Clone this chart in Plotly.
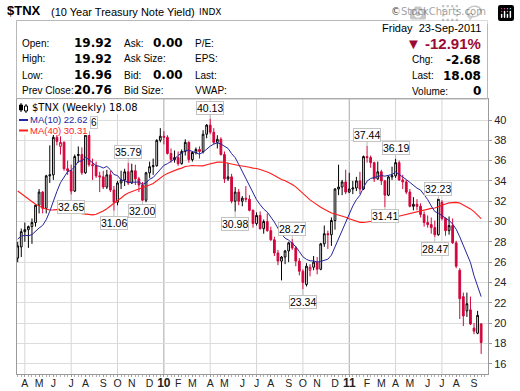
import plotly.graph_objects as go
import pandas as pd
import numpy as np

# ---------------- data ----------------
# weekly closes before the visible window (needed for the moving averages)
prior_closes = [39.7, 39.8, 39.6, 40.9, 41.3, 39.4, 39.4, 38.4, 38.6, 38.1,
                36.7, 37.2, 37.9, 38.5, 36.1, 38.7, 39.3, 36.9, 39.5, 38.1,
                37.2, 31.9, 29.2, 25.6, 25.7, 21.3, 21.4, 24.0, 24.0, 23.2,
                26.1, 28.4, 29.9, 28.8, 27.9, 30.1, 28.7, 28.9, 26.3]

opens = [26.4, 27.5, 29.0, 29.2, 29.5, 29.9, 31.6, 32.9, 31.3, 34.5,
         34.6, 38.3, 37.4, 37.8, 35.2, 35.0, 33.0, 36.5, 36.6, 34.8,
         38.5, 35.6, 35.5, 34.5, 34.4, 33.4, 34.6, 33.1, 31.9, 33.8,
         34.1, 34.9, 33.8, 35.0, 34.2, 33.6, 32.1, 34.8, 35.4, 35.5,
         38.0, 38.4, 38.3, 36.7, 36.1, 36.3, 35.7, 36.9, 37.8, 36.1,
         36.8, 37.1, 36.9, 38.6, 39.5, 38.8, 37.8, 38.1, 36.6, 34.2,
         34.4, 32.0, 32.9, 32.0, 32.3, 32.2, 31.1, 29.8, 30.6, 29.3,
         30.0, 29.1, 28.2, 26.9, 26.1, 26.5, 27.1, 27.9, 27.4, 26.1,
         25.1, 23.8, 25.2, 25.5, 26.0, 25.3, 27.8, 28.8, 28.7, 30.1,
         33.2, 33.4, 33.9, 32.9, 33.2, 33.3, 34.0, 33.2, 36.4, 36.3,
         35.8, 34.2, 34.9, 34.0, 32.6, 34.4, 34.5, 35.8, 34.1, 33.9,
         32.9, 31.5, 31.7, 31.5, 30.7, 29.9, 29.7, 29.4, 28.7, 31.9,
         30.3, 29.1, 29.6, 27.9, 25.2, 22.6, 21.2, 21.3, 19.5, 19.0,
         19.92]
highs = [28.0, 29.3, 29.9, 29.6, 30.3, 31.7, 33.2, 33.0, 34.6, 37.5,
         38.6, 39.9, 38.4, 37.9, 36.0, 35.6, 36.6, 37.4, 37.3, 38.96,
         38.9, 36.2, 35.9, 34.9, 35.0, 35.1, 35.0, 33.5, 34.0, 35.0,
         35.2, 35.79, 35.7, 35.6, 34.4, 33.9, 34.9, 35.9, 36.2, 38.1,
         39.2, 38.9, 38.5, 37.2, 37.0, 36.9, 37.1, 38.1, 37.9, 36.9,
         37.3, 37.4, 39.0, 39.6, 40.13, 39.2, 38.5, 38.3, 36.9, 35.8,
         34.7, 33.4, 33.2, 32.5, 33.5, 32.6, 31.2, 30.9, 31.0, 30.2,
         30.8, 29.5, 28.5, 27.2, 26.6, 27.2, 28.0, 28.27, 27.6, 26.4,
         25.3, 25.9, 25.8, 26.6, 26.5, 27.9, 29.6, 29.1, 30.4, 33.3,
         35.6, 34.1, 35.1, 34.8, 34.0, 34.4, 34.9, 36.5, 37.44, 36.5,
         35.9, 35.9, 35.1, 34.1, 34.5, 35.4, 36.19, 36.0, 34.6, 34.1,
         33.2, 32.4, 32.2, 31.8, 31.0, 30.6, 30.4, 30.1, 32.23, 32.1,
         30.4, 30.5, 30.3, 28.1, 25.4, 23.0, 23.0, 22.6, 20.0, 21.2,
         19.92]
lows = [26.0, 26.5, 28.0, 27.4, 27.8, 29.5, 30.8, 30.8, 30.8, 33.8,
        34.1, 37.5, 36.6, 35.0, 34.6, 32.65, 32.9, 35.8, 34.6, 34.7,
        35.4, 34.1, 34.3, 32.9, 33.2, 33.2, 32.9, 31.06, 31.6, 33.2,
        33.5, 33.6, 33.7, 33.6, 32.9, 32.00, 31.9, 34.3, 34.6, 35.4,
        37.8, 37.6, 36.6, 35.8, 35.8, 35.5, 35.6, 36.5, 35.8, 35.9,
        36.6, 36.2, 36.7, 38.2, 38.6, 37.6, 37.2, 36.5, 33.8, 34.0,
        31.8, 30.98, 31.6, 31.5, 31.9, 31.0, 29.4, 29.6, 29.2, 28.8,
        29.0, 28.1, 26.6, 25.7, 24.2, 25.8, 26.0, 27.2, 25.6, 24.7,
        23.34, 23.6, 24.6, 25.2, 24.8, 25.2, 27.5, 27.3, 27.6, 29.2,
        32.6, 32.6, 32.7, 32.8, 32.7, 33.0, 32.7, 33.1, 35.8, 35.3,
        33.9, 34.1, 33.6, 31.41, 32.5, 34.1, 34.3, 34.0, 33.2, 32.7,
        31.4, 31.1, 31.1, 30.4, 29.5, 29.4, 28.8, 28.47, 28.6, 30.1,
        28.6, 28.7, 27.8, 25.4, 20.4, 19.7, 20.6, 19.8, 18.9, 18.9,
        16.96]
closes = [27.6, 29.0, 29.2, 29.5, 29.9, 31.6, 32.9, 31.3, 34.5, 34.6,
          38.3, 37.9, 37.8, 35.2, 35.0, 33.0, 36.4, 36.6, 34.8, 38.5,
          35.6, 35.5, 34.5, 34.4, 33.4, 34.6, 33.1, 31.9, 33.8, 34.1,
          34.9, 33.8, 35.0, 34.2, 33.6, 32.1, 34.8, 35.4, 35.5, 38.0,
          38.4, 38.3, 36.7, 36.1, 36.3, 35.7, 36.9, 37.8, 36.1, 36.8,
          37.1, 36.9, 38.6, 39.5, 38.8, 37.8, 38.1, 36.6, 34.2, 34.4,
          32.0, 32.9, 32.0, 32.3, 32.2, 31.1, 29.8, 30.6, 29.3, 30.0,
          29.1, 28.2, 26.9, 26.1, 26.5, 27.1, 27.9, 27.4, 26.1, 25.1,
          24.0, 25.6, 25.5, 26.0, 25.3, 27.8, 28.8, 28.7, 30.1, 33.2,
          33.4, 33.9, 32.9, 33.2, 33.3, 34.0, 33.2, 36.4, 36.3, 35.8,
          34.2, 34.9, 34.0, 32.6, 34.4, 34.5, 35.8, 34.1, 33.9, 32.9,
          31.5, 31.7, 31.5, 30.7, 29.9, 29.7, 29.4, 28.7, 32.2, 30.3,
          29.1, 29.6, 27.9, 25.6, 22.4, 20.7, 21.9, 19.9, 19.2, 20.76,
          18.08]

month_letters = ["J", "F", "M", "A", "M", "J", "J", "A", "S", "O", "N", "D"]
y_ticks = [16, 18, 20, 22, 24, 26, 28, 30, 32, 34, 36, 38, 40]

# swing-point labels: (week index, 'H' high / 'L' low, vertical offset px)
swing_labels = [(15, "L", 12), (27, "L", 12), (31, "H", -11), (35, "L", 10),
                (54, "H", -11), (61, "L", 12), (77, "H", -10), (80, "L", 13),
                (98, "H", -11), (103, "L", 9), (106, "H", -11), (117, "L", 12),
                (118, "H", -10)]

weeks = pd.date_range("2009-03-23", periods=len(closes), freq="7D")

# ---------------- derived ----------------
allc = pd.Series(prior_closes + closes)
ma10 = allc.rolling(10).mean().iloc[len(prior_closes):].values
ma40 = allc.rolling(40).mean().iloc[len(prior_closes):].values
prev = [prior_closes[-1]] + closes[:-1]
up = [c >= p for c, p in zip(closes, prev)]

RED = "#d2063c"
NAVY = "#24249e"
MARED = "#ff1c1c"

W, H = 520, 391
L, R, T, B = 17, 488, 99, 374


def xp(px):
    return (px - L) / (R - L)


def yp(py):
    return (B - py) / (B - T)


fig = go.Figure()


def add_candles(mask, col):
    idx = [i for i in range(len(closes)) if mask[i]]
    fig.add_trace(go.Candlestick(
        x=[weeks[i] for i in idx],
        open=[opens[i] for i in idx], high=[highs[i] for i in idx],
        low=[lows[i] for i in idx], close=[closes[i] for i in idx],
        increasing=dict(line=dict(color=col, width=1), fillcolor="white"),
        decreasing=dict(line=dict(color=col, width=1), fillcolor=col),
        whiskerwidth=0, hoverinfo="skip", showlegend=False))


add_candles(up, "#000000")
add_candles([not u for u in up], RED)

fig.add_trace(go.Scatter(x=weeks, y=ma40, mode="lines",
                         line=dict(color=MARED, width=1.1), hoverinfo="skip",
                         showlegend=False))
fig.add_trace(go.Scatter(x=weeks, y=ma10, mode="lines",
                         line=dict(color=NAVY, width=1.0), hoverinfo="skip",
                         showlegend=False))

# month ticks at first weekly bar of each month
tickvals, ticktext, quarter = [], [], []
last_m = None
for d in weeks:
    if d.month != last_m:
        if last_m is not None:
            tickvals.append(d)
            if d.month == 1:
                ticktext.append("<b><span style='font-size:12px'>%02d</span></b>" % (d.year % 100))
            else:
                ticktext.append(month_letters[d.month - 1])
            if d.month in (1, 4, 7, 10):
                quarter.append(d)
        last_m = d.month

shapes = []
for d in quarter:
    shapes.append(dict(type="line", xref="x", yref="paper", x0=d, x1=d, y0=0, y1=1,
                       line=dict(color="#a8a8a8" if d.month == 1 else "#d6d6d6", width=1),
                       layer="below"))

# header box
shapes.append(dict(type="rect", xref="paper", yref="paper", x0=xp(16.5), x1=xp(487.5),
                   y0=yp(99), y1=yp(20.5), line=dict(color="#b8b8b8", width=1)))
# legend backgrounds
shapes.append(dict(type="rect", xref="paper", yref="paper", x0=xp(17.5), x1=xp(89),
                   y0=yp(135), y1=yp(99.6), line=dict(width=0), fillcolor="white",
                   layer="above"))
shapes.append(dict(type="rect", xref="paper", yref="paper", x0=xp(17.5), x1=xp(151),
                   y0=yp(114), y1=yp(99.6), line=dict(width=0), fillcolor="white",
                   layer="above"))
# legend glyphs
shapes.append(dict(type="line", xref="paper", yref="paper", x0=xp(21), x1=xp(21),
                   y0=yp(112), y1=yp(103), line=dict(color="black", width=1), layer="above"))
shapes.append(dict(type="rect", xref="paper", yref="paper", x0=xp(19.5), x1=xp(22.5),
                   y0=yp(110), y1=yp(105), line=dict(color="black", width=1),
                   fillcolor="black", layer="above"))
shapes.append(dict(type="line", xref="paper", yref="paper", x0=xp(26), x1=xp(26),
                   y0=yp(113), y1=yp(104), line=dict(color="black", width=1), layer="above"))
shapes.append(dict(type="rect", xref="paper", yref="paper", x0=xp(24.5), x1=xp(27.5),
                   y0=yp(111), y1=yp(106), line=dict(color="black", width=1),
                   fillcolor="white", layer="above"))
shapes.append(dict(type="line", xref="paper", yref="paper", x0=xp(19), x1=xp(28),
                   y0=yp(120), y1=yp(120), line=dict(color=NAVY, width=2), layer="above"))
shapes.append(dict(type="line", xref="paper", yref="paper", x0=xp(19), x1=xp(28),
                   y0=yp(130.5), y1=yp(130.5), line=dict(color=MARED, width=2), layer="above"))

ann = []


def txt(x, y, s, size=10, anchor="left", color="#000", bold=False, family="Liberation Sans, Arial"):
    if bold:
        s = "<b>%s</b>" % s
    ann.append(dict(xref="paper", yref="paper", x=xp(x), y=yp(y), text=s, showarrow=False,
                    xanchor=anchor, yanchor="middle",
                    font=dict(size=size, color=color, family=family)))


# title
txt(5, 11, "$TNX", size=13, bold=True)
txt(49, 11.5, "(10 Year Treasury Note Yield)", size=11)
txt(197, 12, "INDX", size=9, family="DejaVu Sans")
txt(488, 12, "©StockCharts.com", size=10, anchor="right", color="#444", family="DejaVu Sans")

# data table
VF = "DejaVu Sans"
rows = [(43, "Open:", "19.92", "Ask:", "0.00", "P/E:"),
        (59, "High:", "19.92", "Ask Size:", "", "EPS:"),
        (75, "Low:", "16.96", "Bid:", "0.00", "Last:"),
        (90.5, "Prev Close:", "20.76", "Bid Size:", "", "VWAP:")]
for y, a, b, c, d, e in rows:
    txt(20, y, a, size=10)
    txt(114, y, b, size=12, anchor="right", bold=True, family=VF)
    txt(122, y, c, size=10)
    if d:
        txt(185, y, d, size=12, anchor="right", bold=True, family=VF)
    txt(193, y, e, size=10)

txt(483, 28, "Friday  23-Sep-2011", size=11, anchor="right")
txt(483, 43.5, "▼ -12.91%", size=15, anchor="right", color="#9b0a35", bold=True)
for y, a, b in [(60, "Chg:", "-2.68"), (75.5, "Last:", "18.08"), (91, "Volume:", "0")]:
    txt(410, y, a, size=10)
    txt(483, y, b, size=12, anchor="right", bold=True, family=VF)

# in-plot legend
txt(30, 107.5, "$TNX (Weekly) 18.08", size=10, family="DejaVu Sans")
txt(28, 119.5, "MA(10) 22.62", size=9.5, color=NAVY)
txt(28, 130.5, "MA(40) 30.31", size=9.5, color=MARED)
ann.append(dict(xref="paper", yref="paper", x=xp(97.5), y=yp(122), text="6", showarrow=False,
                xanchor="right", yanchor="middle", bgcolor="white", bordercolor="#c8c8c8",
                borderwidth=1, borderpad=0, font=dict(size=10, color="#000")))

# swing labels
for i, kind, off in swing_labels:
    v = highs[i] if kind == "H" else lows[i]
    ann.append(dict(xref="x", yref="y", x=weeks[i], y=v, text="%.2f" % v,
                    showarrow=True, arrowhead=0, arrowwidth=1, arrowcolor="#bdbdbd",
                    ax=0, ay=off, bgcolor="white", bordercolor="#c4c4c4", borderwidth=1,
                    borderpad=0, font=dict(size=10.5, color="#000")))

px_per_day = 3.565 / 7.0
x0 = weeks[0] - pd.Timedelta(days=0.7 / px_per_day)
x1 = weeks[0] + pd.Timedelta(days=(R - 17.7) / px_per_day)

fig.update_layout(
    width=W, height=H, autosize=False,
    margin=dict(l=L, r=W - R, t=T, b=H - B, pad=0, autoexpand=False),
    paper_bgcolor="white", plot_bgcolor="white",
    font=dict(family="Liberation Sans, Arial, sans-serif", size=11, color="#000"),
    showlegend=False,
    shapes=shapes, annotations=ann,
    xaxis=dict(type="date", range=[x0, x1], tickmode="array", tickvals=tickvals,
               ticktext=ticktext, showgrid=False, showline=True, linecolor="#9a9a9a",
               mirror=True, ticks="outside", ticklen=2, tickcolor="#9a9a9a",
               tickfont=dict(size=10.5, color="#222"), automargin=False,
               ticklabelstandoff=-3,
               minor=dict(dtick=7 * 86400000, tick0=weeks[0], ticks="outside", ticklen=2,
                          tickcolor="#b0b0b0", showgrid=False),
               rangeslider=dict(visible=False), fixedrange=True, zeroline=False),
    yaxis=dict(side="right", range=[14.98, 42.07], tickmode="array", tickvals=y_ticks,
               showgrid=True, gridcolor="#dcdcdc", gridwidth=1, showline=True,
               linecolor="#9a9a9a", mirror=True, ticks="outside", ticklen=3,
               tickcolor="#9a9a9a", tickfont=dict(size=11, color="#222"), automargin=False,
               fixedrange=True, zeroline=False),
)

fig.write_html("out.html",
               post_script="document.body.style.margin='0';document.body.style.overflow='hidden';")
